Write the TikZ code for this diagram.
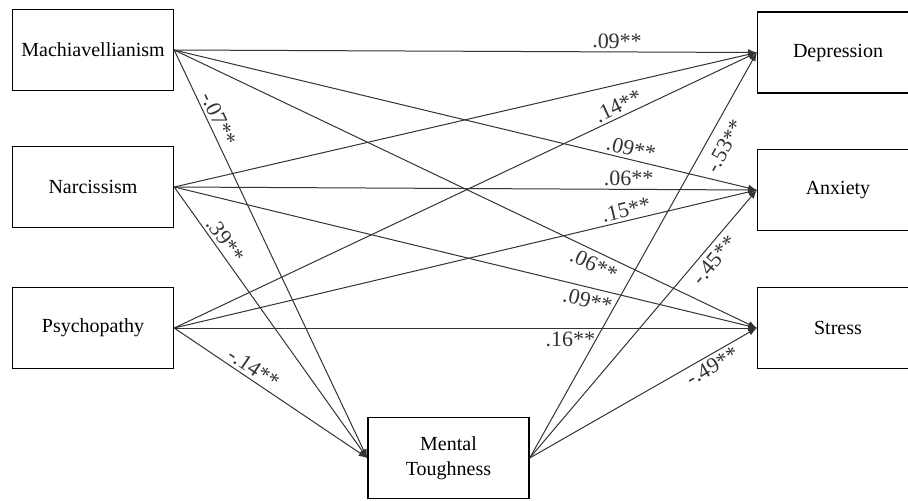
\documentclass[tikz,border=0pt]{standalone}
\usepackage{fontspec}
\setmainfont{Liberation Serif}
\usetikzlibrary{positioning, arrows}
\tikzset{
	>=latex, % punta rellena
	node distance=68.5pt, % distancia entre cajas
	var/.style={draw, line width=0.7pt, minimum width=80.5pt, minimum height=40.5pt, inner sep=0pt, align=center, font=\fontsize{10}{12.5}\selectfont}, % cajas de variables
	coef/.style={sloped, inner sep=1.5pt, font=\fontsize{11}{13}\selectfont}, % coeficientes
	every edge/.style={draw, ->, black!80, line width=0.5pt} % flechas
}

\begin{document}
\begin{tikzpicture}
	\clip (-46.5pt,-225pt) rectangle (407.5pt,25pt);
	\node[var] (mach) {Machiavellianism};
	\node[var, below of=mach] (narc) {Narcissism};
	\node[var, below of=narc, node distance=70.5pt] (psy) {Psychopathy};
	\node[var, right of=mach, node distance=372.5pt, yshift=-1.25pt] (dep) {Depression};
	\node[var, right of=narc, node distance=372.5pt, yshift=-1.5pt] (anx) {Anxiety};
	\node[var, right of=psy, node distance=372.5pt] (stress) {Stress};
	\node[var, below of=psy, node distance=65pt, xshift=177.75pt] (mt) {Mental\\Toughness};
	\path (mach.east) edge node[coef, above, pos=.76] {.09**} (dep.west)
	      (mach.east) edge node[coef, above, pos=.78] {.09**} (anx.west)
	      (mach.east) edge node[coef, below, pos=.73, inner sep=2.5pt] {.06**} (stress.west)
	      (mach.east) edge node[coef, above, pos=.18] {-.07**} (mt.west)
	      (narc.east) edge (dep.west)
	      (narc.east) edge node[coef, above, pos=.78] {.06**} (anx.west)
	      (narc.east) edge node[coef, below, pos=.715, inner sep=2.5pt] {.09**} (stress.west)
	      (narc.east) edge node[coef, above, pos=.22] {.39**} (mt.west)
	      (psy.east) edge node[coef, above, pos=.77] {.14**} (dep.west)
	      (psy.east) edge node[coef, above, pos=.78] {.15**} (anx.west)
	      (psy.east) edge node[coef, below, pos=.68] {.16**} (stress.west)
	      (psy.east) edge node[coef, above, pos=.38] {-.14**} (mt.west)
	      (mt.east) edge node[coef, below, pos=.79, inner sep=5pt] {-.53**} (dep.west)
	      (mt.east) edge node[coef, below, pos=.77, inner sep=2.5pt] {-.45**} (anx.west)
	      (mt.east) edge node[coef, below, pos=.78] {-.49**} (stress.west);
\end{tikzpicture}
\end{document}
